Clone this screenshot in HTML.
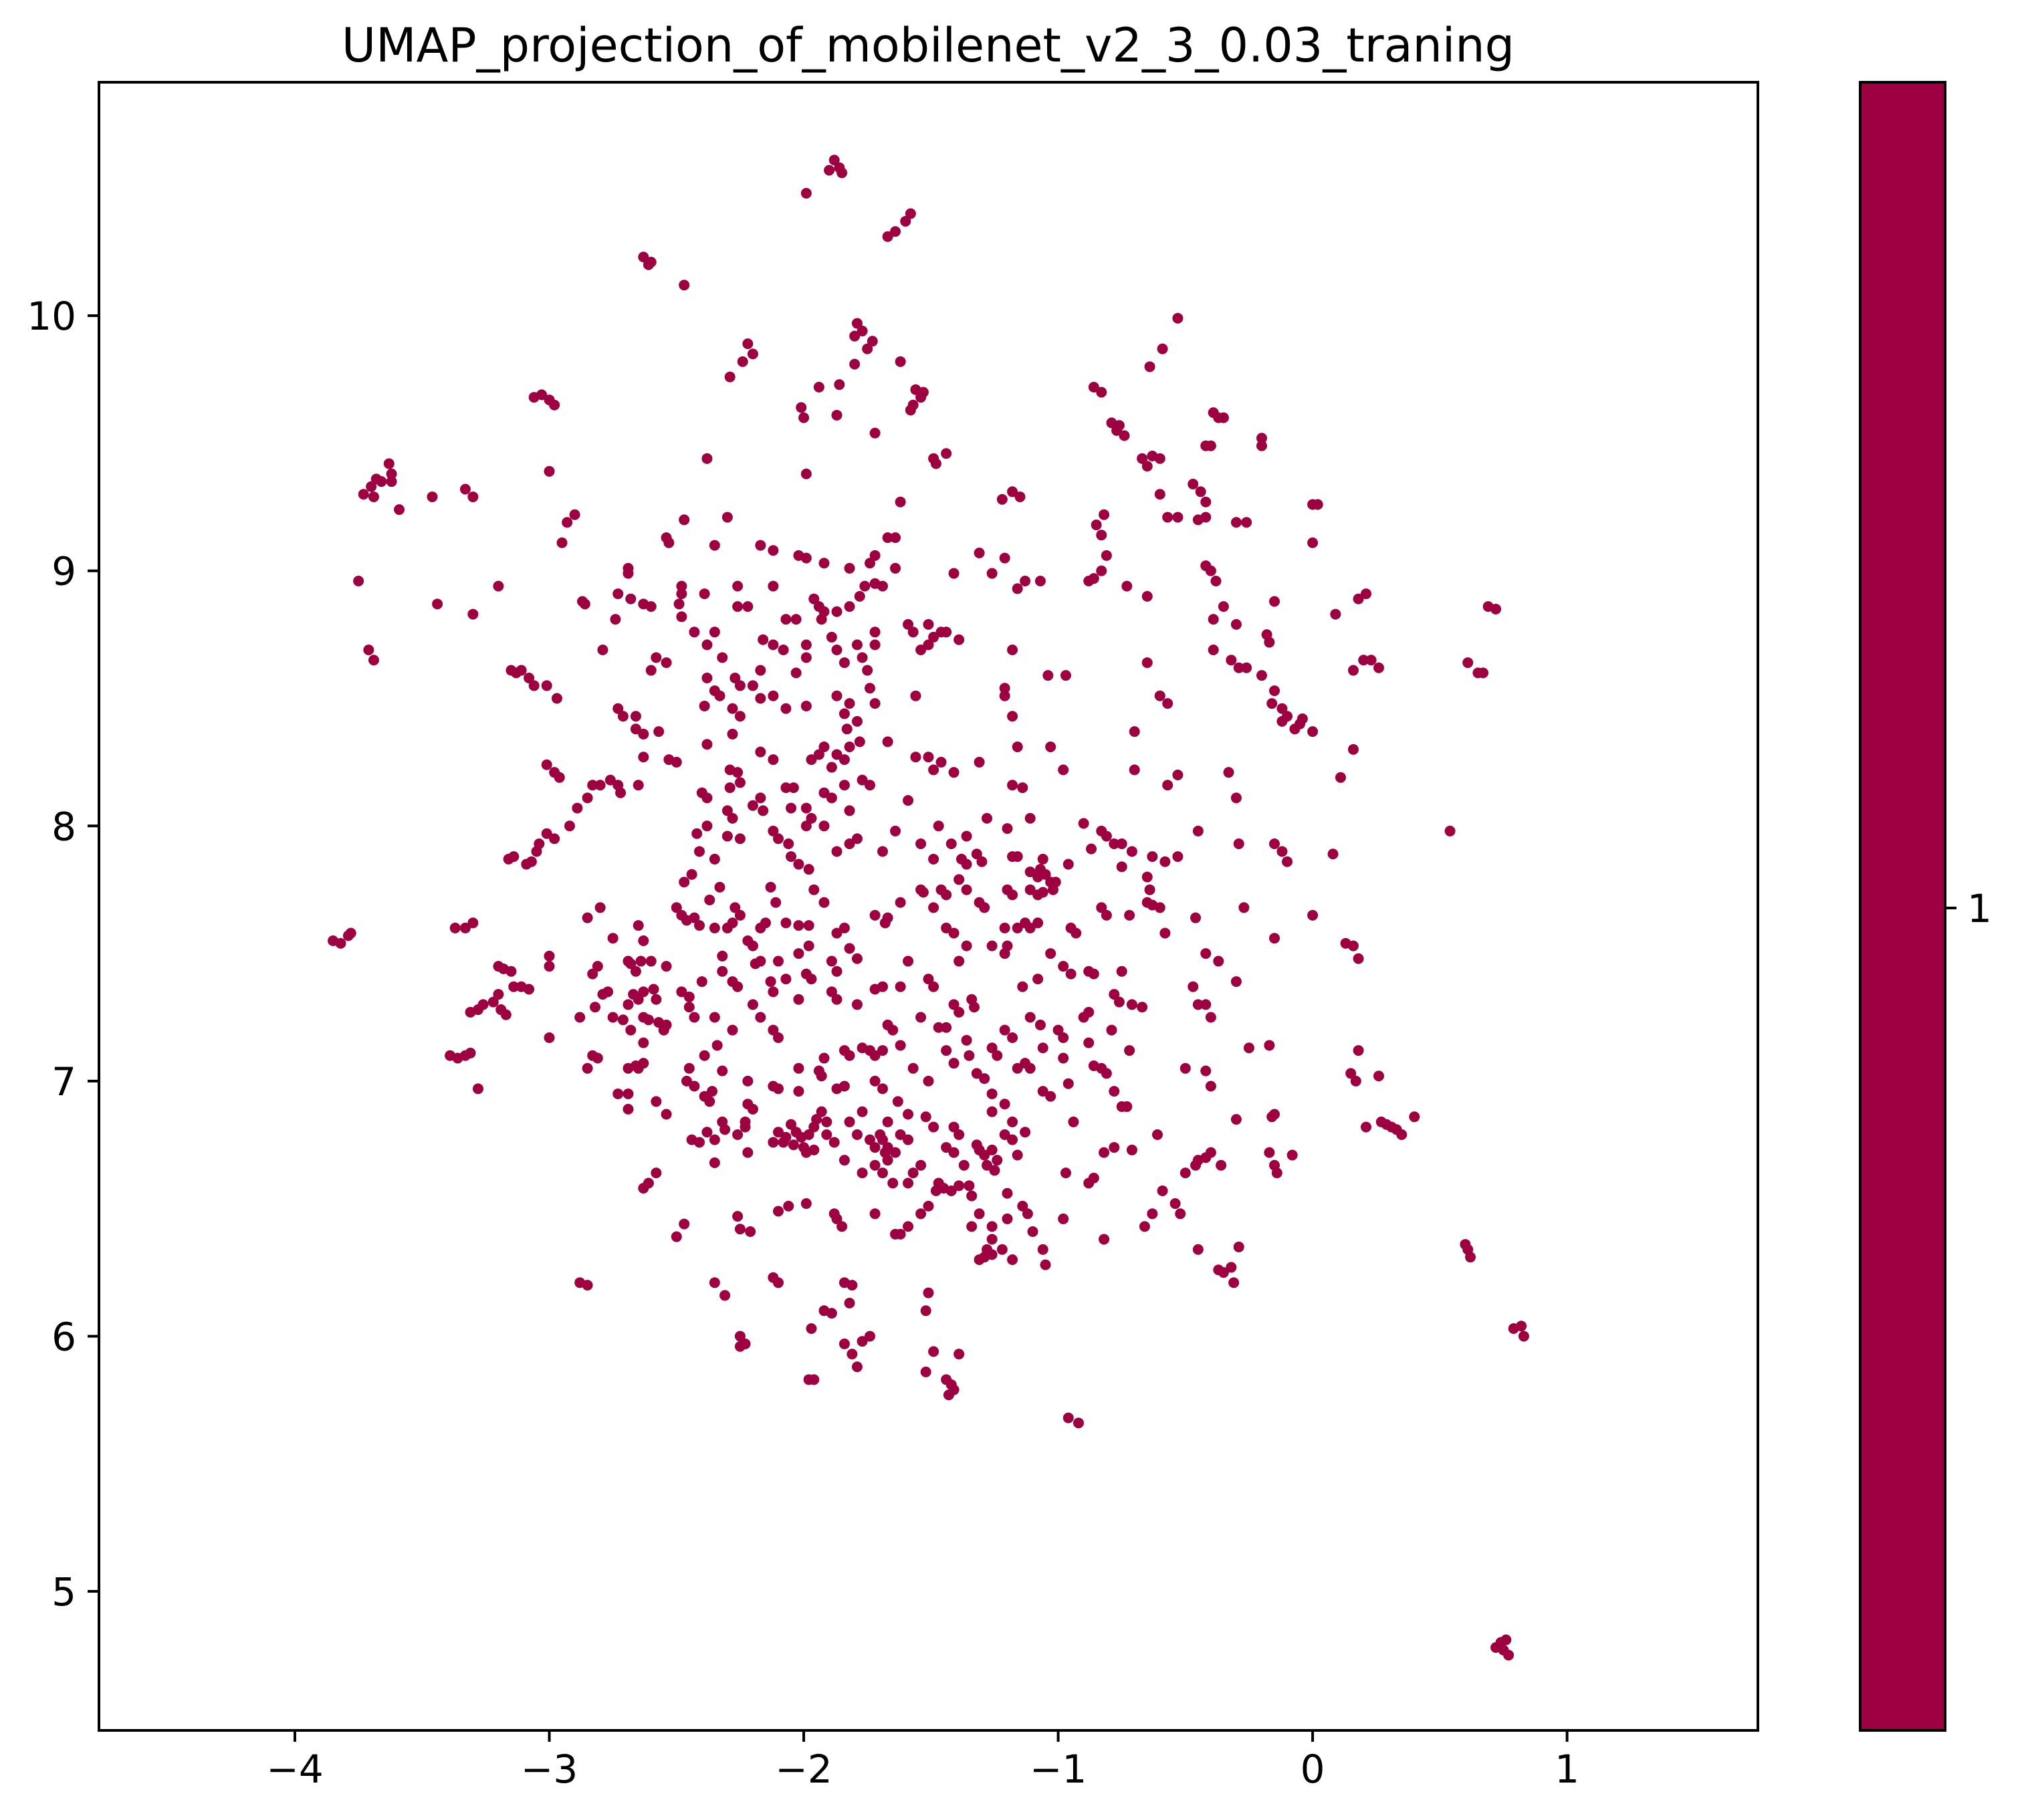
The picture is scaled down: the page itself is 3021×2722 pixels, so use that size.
<!DOCTYPE html>
<html><head><meta charset="utf-8"><style>
html,body{margin:0;padding:0;background:#fff;}
svg{display:block;font-family:"DejaVu Sans","Liberation Sans",sans-serif;}
</style></head><body>
<svg id="chart" width="3021" height="2722" viewBox="0 0 3021 2722" xmlns="http://www.w3.org/2000/svg">
<rect width="3021" height="2722" fill="#fff"/>
<text x="1388" y="92" text-anchor="middle" font-size="70" fill="#000">UMAP_projection_of_mobilenet_v2_3_0.03_traning</text>
<g id="points"></g>
<g id="xticks"></g>
<g id="yticks"></g>
<rect x="148" y="123" width="2481" height="2465" fill="none" stroke="#000" stroke-width="4"/>
<rect x="2782" y="123" width="127" height="2465" fill="#9e0142" stroke="#000" stroke-width="4"/>
<line x1="2909" y1="1358" x2="2926" y2="1358" stroke="#000" stroke-width="4"/>
<text x="2942" y="1379" font-size="58">1</text>
</svg>
<script>
const xTickValues=[-4,-3,-2,-1,0,1];
const yTickValues=[5,6,7,8,9,10];
const umapPoints=[
[-1.88,10.61],[-1.86,10.58],[-1.9,10.57],[-1.85,10.56],[-1.99,10.48],[-1.67,10.31],[-1.64,10.33],[-1.6,10.37],[-1.58,10.4],
[-2.63,10.23],[-2.61,10.2],[-2.6,10.21],[-2.47,10.12],[-0.53,9.99],[-1.79,9.97],[-1.77,9.94],[-1.8,9.92],[-1.73,9.9],[-1.75,9.87],
[-2.22,9.89],[-2.2,9.85],[-2.24,9.82],[-2.29,9.76],[-1.62,9.82],[-0.59,9.87],[-0.64,9.8],[-1.86,9.73],[-1.94,9.72],[-1.8,9.81],
[-2.01,9.64],[-2.0,9.6],[-1.87,9.61],[-1.72,9.54],[-1.56,9.71],[-1.53,9.7],[-1.54,9.68],[-1.57,9.65],[-1.58,9.63],
[-3.06,9.68],[-3.03,9.69],[-3.0,9.67],[-2.98,9.65],[-0.86,9.72],[-0.83,9.7],[-0.79,9.58],[-0.76,9.57],[-0.74,9.53],[-0.77,9.55],
[-0.39,9.62],[-0.37,9.6],[-0.35,9.6],[-0.42,9.49],[-0.4,9.49],[-0.2,9.52],[-0.2,9.49],[-0.67,9.44],[-0.63,9.45],[-0.65,9.41],[-0.6,9.44],
[-2.38,9.44],[-1.99,9.38],[-1.49,9.44],[-1.48,9.42],[-1.44,9.46],
[-3.63,9.42],[-3.62,9.38],[-3.66,9.35],[-3.68,9.36],[-3.7,9.33],[-3.73,9.3],[-3.69,9.29],[-3.62,9.35],[-3.59,9.24],
[-3.0,9.39],[-3.33,9.32],[-3.3,9.29],[-3.46,9.29],[-2.93,9.19],[-2.9,9.22],[-2.95,9.11],[-2.47,9.2],[-2.3,9.21],[-1.62,9.27],
[-1.22,9.28],[-1.18,9.31],[-1.15,9.29],[-0.82,9.22],[-0.85,9.18],[-0.83,9.14],[-0.6,9.3],[-0.57,9.21],[-0.53,9.21],
[-0.47,9.34],[-0.44,9.31],[-0.42,9.27],[-0.45,9.2],[-0.42,9.21],[-0.3,9.19],[-0.26,9.19],[0.0,9.26],[0.02,9.26],[0.0,9.11],
[-3.75,8.96],[-2.54,9.13],[-2.53,9.11],[-2.35,9.1],[-2.17,9.1],[-2.12,9.08],[-2.02,9.06],[-1.99,9.05],[-1.92,9.03],
[-1.82,9.01],[-1.72,9.06],[-1.67,9.13],[-1.64,9.13],[-1.74,9.03],[-1.41,8.99],[-1.31,9.07],[-1.26,8.99],[-1.21,9.05],[-1.16,8.93],[-1.13,8.96],
[-1.07,8.96],[-0.88,8.96],[-0.86,8.97],[-0.83,9.0],[-0.81,9.06],[-0.73,8.94],[-0.65,8.9],[-0.42,9.02],[-0.4,9.0],[-0.38,8.96],
[-0.35,8.86],[-0.39,8.81],[-0.15,8.88],[0.18,8.89],[0.21,8.91],[0.09,8.83],[0.69,8.86],[0.72,8.85],[-3.3,8.83],[-3.44,8.87],[-3.2,8.94],
[-2.87,8.88],[-2.86,8.87],[-2.79,8.69],[-2.73,8.91],[-2.69,9.01],[-2.69,8.99],[-2.68,8.89],[-2.63,8.87],[-2.6,8.86],[-2.74,8.81],
[-2.48,8.91],[-2.49,8.87],[-2.48,8.82],[-2.48,8.94],[-2.39,8.91],[-2.26,8.94],[-2.22,8.86],[-2.12,8.94],[-2.07,8.81],[-2.03,8.81],
[-1.96,8.89],[-1.94,8.86],[-1.92,8.84],[-1.93,8.81],[-1.87,8.84],[-1.82,8.86],[-1.78,8.9],[-1.76,8.94],[-1.72,8.95],[-1.69,8.94],[-1.64,9.01],
[-1.59,8.79],[-1.57,8.76],[-1.51,8.79],[-1.49,8.74],[-1.46,8.76],[-1.44,8.76],[-1.54,8.69],[-1.51,8.71],[-1.39,8.73],[-1.18,8.69],
[-2.43,8.76],[-2.35,8.76],[-2.38,8.71],[-2.32,8.66],[-2.26,8.86],[-2.16,8.73],[-2.12,8.71],[-2.08,8.69],[-1.99,8.71],[-1.99,8.66],[-2.03,8.6],
[-1.89,8.74],[-1.87,8.69],[-1.84,8.64],[-1.79,8.71],[-1.77,8.66],[-1.75,8.61],[-1.72,8.76],[-1.72,8.71],[-3.71,8.69],[-3.69,8.65],
[-3.15,8.61],[-3.13,8.6],[-3.11,8.61],[-3.08,8.58],[-3.06,8.55],[-3.01,8.55],[-2.97,8.5],[-2.58,8.66],[-2.54,8.64],
[-2.38,8.58],[-2.35,8.53],[-2.33,8.51],[-2.27,8.58],[-2.25,8.55],[-2.17,8.61],[-2.2,8.55],[-2.12,8.51],[-2.17,8.5],[-2.07,8.46],[-1.99,8.47],
[-2.28,8.46],[-2.25,8.43],[-2.39,8.47],[-1.87,8.51],[-1.84,8.44],[-1.82,8.48],[-1.79,8.41],[-1.83,8.38],[-1.74,8.54],[-1.72,8.48],[-1.56,8.51],
[-1.21,8.54],[-1.21,8.51],[-1.18,8.43],[-1.04,8.59],[-0.97,8.59],[-0.65,8.64],[-0.6,8.51],[-0.57,8.48],[-0.39,8.69],[-0.32,8.65],[-0.29,8.62],
[-0.26,8.62],[-0.2,8.59],[-0.15,8.53],[-0.16,8.48],[-0.12,8.46],[-0.1,8.43],[-0.12,8.41],[-0.07,8.38],[-0.05,8.4],[-0.04,8.42],[0.0,8.37],
[0.16,8.61],[0.2,8.65],[0.23,8.65],[0.26,8.62],[0.61,8.64],[0.65,8.6],[0.67,8.6],[-0.18,8.75],[-0.17,8.72],[-0.3,8.79],
[-2.73,8.46],[-2.71,8.43],[-2.66,8.38],[-2.63,8.36],[-2.57,8.37],[-2.53,8.26],[-2.5,8.25],[-2.38,8.32],[-2.28,8.36],[-2.29,8.22],[-2.26,8.21],
[-2.17,8.29],[-2.12,8.26],[-1.97,8.26],[-1.94,8.28],[-1.92,8.31],[-1.89,8.23],[-1.87,8.28],[-1.84,8.26],[-1.82,8.31],[-1.78,8.33],[-1.67,8.33],
[-1.56,8.27],[-1.51,8.27],[-1.49,8.22],[-1.46,8.25],[-1.41,8.21],[-1.31,8.25],[-1.16,8.31],[-1.03,8.31],[-0.98,8.22],[-0.7,8.37],
[-0.57,8.16],[-0.53,8.2],[-0.33,8.21],[-0.3,8.11],[0.16,8.3],[0.11,8.19],[0.54,7.98],
[-3.01,8.24],[-2.98,8.21],[-2.96,8.19],[-2.85,8.11],[-2.89,8.07],[-2.92,8.0],[-2.83,8.16],[-2.8,8.16],[-2.76,8.18],[-2.73,8.16],[-2.65,8.16],[-2.72,8.13],
[-3.01,7.97],[-2.98,7.95],[-3.04,7.93],[-3.07,7.86],[-3.05,7.9],[-3.14,7.88],[-3.16,7.87],[-3.09,7.85],
[-2.4,8.13],[-2.38,8.11],[-2.29,8.15],[-2.25,8.17],[-2.2,8.08],[-2.17,8.11],[-2.16,8.06],[-2.05,8.07],[-1.99,8.07],[-2.07,8.15],[-2.04,8.15],
[-1.92,8.13],[-1.89,8.11],[-1.84,8.16],[-1.77,8.18],[-1.74,8.16],[-1.92,8.0],[-1.82,8.06],[-1.59,8.1],[-1.28,8.03],[-1.36,7.96],[-1.2,7.99],
[-1.11,8.03],[-1.18,8.16],[-1.14,8.15],[-0.83,7.98],[-0.81,7.96],[-0.78,7.93],[-0.75,7.93],[-0.71,7.9],[-0.63,7.88],[-0.58,7.86],[-0.53,7.88],
[-0.75,7.84],[-0.87,7.91],[-0.45,7.98],[-0.29,7.93],[-0.15,7.93],[-0.12,7.9],[-0.1,7.86],[0.08,7.89],
[-2.42,7.97],[-2.38,8.0],[-2.41,7.9],[-2.35,7.87],[-2.44,7.81],[-2.47,7.78],[-2.3,8.06],[-2.28,8.03],[-2.25,7.95],[-2.3,7.96],
[-2.12,7.98],[-2.1,7.95],[-1.99,8.0],[-1.97,8.03],[-2.06,7.93],[-2.05,7.88],[-2.02,7.85],[-1.98,7.83],[-1.87,7.9],[-1.82,7.93],[-1.79,7.95],
[-1.69,7.9],[-1.64,7.98],[-1.54,7.93],[-1.42,7.93],[-1.47,8.0],[-1.32,7.89],[-1.3,7.86],[-1.18,7.88],[-1.16,7.88],[-1.06,7.87],
[-1.11,7.82],[-1.07,7.83],[-1.08,7.8],[-1.05,7.81],[-1.03,7.78],[-1.02,7.75],[-1.11,7.75],[-1.08,7.73],[-1.06,7.74],[-1.01,7.78],[-0.96,7.85],
[-0.65,7.8],[-0.64,7.75],[-0.65,7.7],[-0.6,7.68],[-0.63,7.69],[-0.58,7.58],[-0.46,7.64],[-0.27,7.68],[0.0,7.65],[0.13,7.54],[0.16,7.53],[0.18,7.48],
[-0.15,7.56],[-0.42,7.5],[-0.37,7.47],[-0.47,7.37],[-0.45,7.3],[-0.3,7.39],
[-3.85,7.55],[-3.82,7.54],[-3.79,7.57],[-3.78,7.58],[-3.37,7.6],[-3.33,7.6],[-3.3,7.62],[-3.2,7.45],[-3.18,7.44],[-3.15,7.43],
[-3.14,7.37],[-3.11,7.37],[-3.2,7.34],[-3.22,7.31],[-3.19,7.28],[-3.17,7.26],[-3.26,7.3],[-3.28,7.28],[-3.31,7.27],[-3.08,7.36],
[-3.0,7.49],[-3.0,7.45],[-2.85,7.64],[-2.8,7.68],[-2.75,7.56],[-2.83,7.42],[-2.81,7.45],[-2.82,7.29],[-2.79,7.34],[-2.77,7.35],
[-2.75,7.25],[-2.71,7.24],[-2.69,7.3],[-2.67,7.34],[-2.65,7.32],[-2.68,7.2],[-2.63,7.15],[-2.64,7.47],[-2.6,7.47],[-2.59,7.36],
[-2.63,7.25],[-2.61,7.24],[-2.58,7.32],[-2.57,7.23],[-2.55,7.2],[-2.54,7.22],[-2.5,7.68],[-2.48,7.65],[-2.46,7.63],[-2.43,7.64],[-2.41,7.61],
[-2.54,7.45],[-2.48,7.35],[-2.45,7.33],[-2.35,7.6],[-2.33,7.76],[-2.37,7.71],[-2.3,7.6],[-2.27,7.68],[-2.25,7.65],[-2.28,7.62],
[-2.22,7.55],[-2.2,7.53],[-2.32,7.49],[-2.32,7.43],[-2.4,7.39],[-2.28,7.39],[-2.26,7.37],[-2.17,7.6],[-2.15,7.62],[-2.13,7.76],
[-2.11,7.7],[-2.07,7.62],[-2.02,7.61],[-1.98,7.61],[-1.96,7.75],[-1.92,7.7],[-2.1,7.47],[-2.07,7.4],[-2.19,7.46],[-2.17,7.47],
[-2.13,7.39],[-2.12,7.35],[-2.02,7.5],[-1.98,7.53],[-1.87,7.58],[-1.84,7.6],[-1.82,7.52],[-1.79,7.48],[-1.89,7.47],[-1.87,7.43],
[-1.99,7.42],[-1.97,7.4],[-1.89,7.35],[-1.87,7.32],[-2.02,7.32],[-2.2,7.3],[-2.17,7.25],[-2.35,7.25],[-2.12,7.2],[-2.1,7.17],
[-2.39,7.1],[-2.34,7.14],[-2.28,7.2],[-2.32,7.04],[-2.22,7.0],[-2.45,7.05],[-2.46,7.0],[-2.43,6.98],[-2.36,6.96],[-2.39,6.94],[-2.37,6.92],
[-2.58,6.92],[-2.54,6.87],[-2.69,6.89],[-2.69,7.05],[-2.65,7.05],[-2.66,7.06],[-2.63,7.07],[-2.85,7.05],[-2.83,7.1],[-2.81,7.09],
[-2.88,7.25],[-2.69,6.95],[-3.0,7.17],[-3.39,7.1],[-3.36,7.09],[-3.33,7.1],[-3.31,7.11],[-3.28,6.97],
[-1.72,7.65],[-1.68,7.62],[-1.67,7.64],[-1.62,7.7],[-1.54,7.75],[-1.53,7.74],[-1.49,7.68],[-1.46,7.75],[-1.44,7.73],[-1.39,7.79],[-1.36,7.75],
[-1.44,7.6],[-1.41,7.58],[-1.39,7.47],[-1.36,7.53],[-1.31,7.7],[-1.29,7.68],[-1.21,7.6],[-1.26,7.53],[-1.21,7.5],[-1.2,7.53],
[-1.16,7.6],[-1.13,7.62],[-1.08,7.62],[-1.11,7.6],[-1.03,7.5],[-1.14,7.37],[-1.08,7.4],[-0.98,7.45],[-0.95,7.42],[-0.88,7.43],[-0.86,7.42],
[-0.75,7.43],[-0.78,7.34],[-0.76,7.31],[-0.71,7.3],[-0.67,7.29],[-0.9,7.25],[-0.88,7.27],[-1.0,7.2],[-0.98,7.17],[-1.11,7.25],[-1.07,7.22],
[-1.21,7.2],[-1.18,7.17],[-1.26,7.13],[-1.24,7.1],[-1.16,7.05],[-1.13,7.07],[-1.11,7.05],[-1.06,7.13],[-0.98,7.09],[-0.86,7.06],[-0.83,7.05],
[-0.81,7.03],[-0.88,7.15],[-0.79,7.2],[-0.72,7.12],[-1.34,7.32],[-1.33,7.29],[-1.41,7.3],[-1.39,7.27],[-1.47,7.21],[-1.44,7.21],[-1.54,7.25],
[-1.51,7.4],[-1.49,7.37],[-1.59,7.47],[-1.62,7.37],[-1.69,7.37],[-1.72,7.36],[-1.79,7.3],[-1.67,7.22],[-1.65,7.2],[-1.77,7.13],[-1.74,7.12],
[-1.72,7.1],[-1.69,7.12],[-1.84,7.12],[-1.82,7.1],[-1.92,7.09],[-1.94,7.04],[-1.93,7.02],[-2.02,7.05],[-1.62,7.14],[-1.57,7.05],[-1.51,7.0],
[-1.44,7.12],[-1.41,7.07],[-1.36,7.16],[-1.35,7.1],[-1.32,7.03],[-1.29,7.01],[-1.26,6.95],[-1.21,6.91],[-1.06,6.96],[-1.03,6.94],[-0.96,6.99],
[-0.78,6.96],[-0.75,6.9],[-2.12,6.98],[-2.1,6.97],[-2.02,6.96],[-1.87,6.97],[-1.84,6.98],[-1.72,7.0],[-1.69,6.97],[-1.63,6.92],[-1.67,6.84],
[-1.59,6.87],[-1.52,6.86],[-1.49,6.82],[-1.41,6.82],[-1.39,6.79],[-1.32,6.75],[-1.26,6.88],[-1.18,6.84],
[-2.05,6.83],[-2.03,6.8],[-2.07,6.78],[-2.1,6.8],[-2.08,6.76],[-2.04,6.75],[-2.01,6.78],[-1.98,6.79],[-2.0,6.74],[-1.96,6.82],[-1.95,6.85],
[-1.93,6.88],[-1.91,6.84],[-2.12,6.76],[-1.99,6.72],[-1.96,6.73],[-1.91,6.79],[-1.88,6.76],
[-2.22,6.91],[-2.2,6.89],[-2.23,6.84],[-2.32,6.84],[-2.31,6.81],[-2.38,6.8],[-2.35,6.77],[-2.26,6.79],[-2.23,6.82],[-2.44,6.77],[-2.41,6.76],
[-2.35,6.68],[-2.22,6.72],[-1.82,6.84],[-1.79,6.79],[-1.77,6.88],[-1.74,6.77],[-1.72,6.74],[-1.7,6.79],[-1.69,6.77],[-1.67,6.74],[-1.64,6.72],
[-1.68,6.72],[-1.67,6.69],[-1.62,6.79],[-1.59,6.77],[-1.84,6.69],[-1.72,6.67],[-1.69,6.64],[-1.77,6.64],[-1.57,6.64],[-1.59,6.6],[-1.65,6.6],
[-1.54,6.67],[-1.44,6.74],[-1.41,6.72],[-1.37,6.67],[-1.31,6.73],[-1.29,6.71],[-1.26,6.73],[-1.24,6.69],[-1.21,6.79],[-1.18,6.77],[-1.16,6.71],
[-1.28,6.67],[-1.25,6.65],[-1.13,6.8],[-1.47,6.6],[-1.45,6.58],[-1.48,6.57],[-1.42,6.57],[-1.39,6.59],[-1.35,6.59],[-1.34,6.55],
[-1.54,6.48],[-1.51,6.51],[-1.59,6.43],[-1.64,6.4],[-1.62,6.4],[-1.72,6.48],[-1.87,6.46],[-1.85,6.43],[-1.88,6.48],[-1.99,6.52],
[-2.06,6.51],[-2.1,6.49],[-2.26,6.47],[-2.25,6.42],[-2.21,6.41],[-2.47,6.44],[-2.5,6.39],[-2.35,6.21],[-2.31,6.16],[-2.88,6.21],[-2.85,6.2],
[-2.12,6.23],[-2.1,6.21],[-2.25,6.0],[-2.23,5.97],[-2.25,5.96],[-1.92,6.1],[-1.89,6.09],[-1.97,6.03],[-1.84,6.21],[-1.81,6.2],[-1.82,6.13],
[-1.74,6.0],[-1.77,5.98],[-1.84,5.97],[-1.81,5.93],[-1.79,5.88],[-1.98,5.83],[-1.96,5.83],[-1.51,6.17],[-1.52,6.1],[-1.49,5.94],[-1.39,5.93],
[-1.52,5.86],[-1.44,5.83],[-1.42,5.81],[-1.43,5.77],[-1.41,5.79],[-0.96,5.68],[-0.92,5.66],
[-1.28,6.34],[-1.26,6.38],[-1.22,6.34],[-1.2,6.46],[-1.31,6.48],[-1.34,6.43],[-1.26,6.43],[-1.14,6.51],[-1.12,6.48],[-1.06,6.34],[-1.18,6.3],
[-1.31,6.3],[-1.29,6.31],[-1.26,6.32],[-1.1,6.41],[-1.05,6.28],[-0.98,6.46],[-1.2,6.56],[-0.97,6.64],[-0.88,6.6],[-0.86,6.62],
[-0.82,6.72],[-0.78,6.74],[-0.71,6.73],[-0.94,6.84],[-0.73,6.9],[-0.82,6.38],[-0.66,6.43],[-0.63,6.48],[-0.59,6.57],[-0.54,6.52],[-0.52,6.48],
[-0.5,6.64],[-0.46,6.67],[-0.45,6.69],[-0.42,6.7],[-0.4,6.72],[-0.36,6.67],[-0.45,6.34],[-0.37,6.26],[-0.35,6.25],[-0.32,6.27],[-0.31,6.21],[-0.29,6.35],
[-0.61,6.79],[-0.5,7.05],[-0.42,7.04],[-0.4,6.98],[-0.3,6.85],[-0.16,6.86],[-0.15,6.87],[-0.17,6.72],[-0.15,6.67],[-0.14,6.64],[-0.08,6.71],
[-0.25,7.13],[-0.17,7.14],[-0.4,7.25],[-0.42,7.3],[0.15,7.03],[0.17,7.0],[0.18,7.12],[0.21,6.82],[0.26,7.02],[0.27,6.84],[0.29,6.83],
[0.31,6.82],[0.33,6.81],[0.4,6.86],[0.35,6.79],[0.6,6.36],[0.61,6.34],[0.62,6.31],[0.79,6.03],[0.82,6.04],[0.83,6.0],
[0.74,4.8],[0.76,4.81],[0.75,4.77],[0.77,4.75],[0.72,4.78],
[-2.63,8.27],[-2.66,8.43],[-2.6,8.61],[-2.65,7.61],[-2.63,7.55],[-2.69,7.47],[-2.68,7.46],[-2.66,7.43],[-2.63,7.35],[-2.45,7.29],[-2.43,7.25],
[-2.73,6.95],[-2.63,6.58],[-2.61,6.6],[-2.58,6.64],[-0.9,8.01],[-0.7,8.22],[-0.95,7.6],[-0.93,7.58],[-0.83,7.68],[-0.81,7.65],[-0.72,7.65],
[-1.38,7.87],[-1.36,7.85],[-1.49,7.87],[-1.2,7.75],[-1.18,7.73]
];
const X0=-4.77,X1=1.75,Y0=4.455,Y1=10.915;
const L=148,R=2629,T=123,B=2588;
const NS='http://www.w3.org/2000/svg';
function xs(v){return L+(v-X0)/(X1-X0)*(R-L);}
function ys(v){return B-(v-Y0)/(Y1-Y0)*(B-T);}
const pg=document.getElementById('points');
umapPoints.forEach(p=>{
  const c=document.createElementNS(NS,'circle');
  c.setAttribute('cx',xs(p[0]));c.setAttribute('cy',ys(p[1]));c.setAttribute('r',8);
  c.setAttribute('fill','#9e0142');
  
  
  pg.appendChild(c);
});
const xg=document.getElementById('xticks');
xTickValues.forEach(v=>{
  const l=document.createElementNS(NS,'line');
  l.setAttribute('x1',xs(v));l.setAttribute('x2',xs(v));l.setAttribute('y1',B);l.setAttribute('y2',B+17);
  l.setAttribute('stroke','#000');l.setAttribute('stroke-width','4');
  
  
  xg.appendChild(l);
  const t=document.createElementNS(NS,'text');
  t.setAttribute('x',xs(v));t.setAttribute('y',B+78);t.setAttribute('text-anchor','middle');t.setAttribute('font-size','58');
  t.textContent=v<0?'\u2212'+Math.abs(v):String(v);
  
  
  xg.appendChild(t);
});
const yg=document.getElementById('yticks');
yTickValues.forEach(v=>{
  const l=document.createElementNS(NS,'line');
  l.setAttribute('x1',L-17);l.setAttribute('x2',L);l.setAttribute('y1',ys(v));l.setAttribute('y2',ys(v));
  l.setAttribute('stroke','#000');l.setAttribute('stroke-width','4');
  
  
  yg.appendChild(l);
  const t=document.createElementNS(NS,'text');
  t.setAttribute('x',L-34);t.setAttribute('y',ys(v)+21);t.setAttribute('text-anchor','end');t.setAttribute('font-size','58');
  t.textContent=String(v);
  
  
  yg.appendChild(t);
});
</script>
</body></html>
